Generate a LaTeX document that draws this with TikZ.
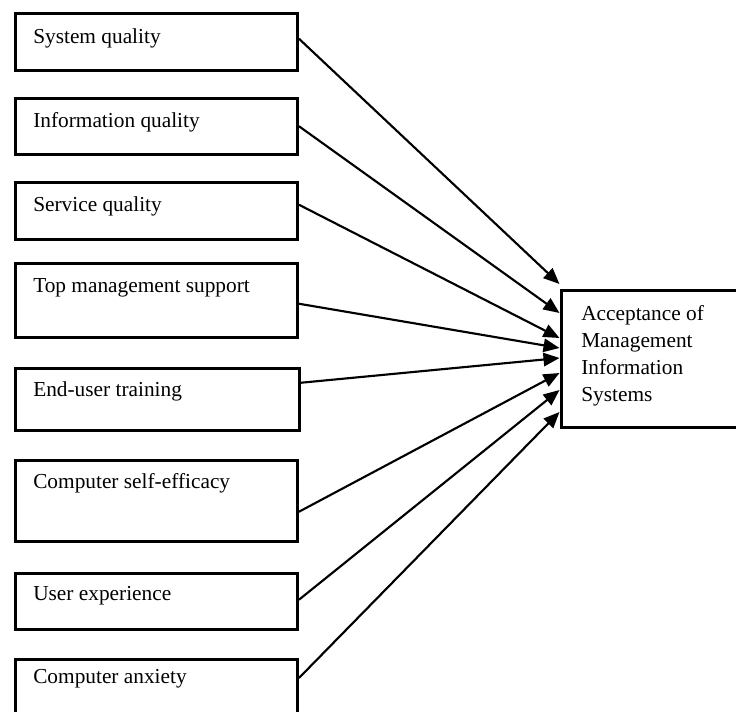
\documentclass[tikz,border=0pt]{standalone}
\usepackage{fontspec}
\setmainfont{Liberation Serif}
\usetikzlibrary{arrows.meta,calc}
\begin{document}
\begin{tikzpicture}[x=0.75pt,y=-0.75pt,
  box/.style={draw, line width=2.6pt, anchor=north west, inner sep=0pt, minimum width=211.5pt},
  txt/.style={anchor=base west, inner sep=0pt, font=\fontsize{16}{20.25}\selectfont},
  arr/.style={line width=1.6pt, -{Triangle[length=12pt,width=10pt]}}]
\useasboundingbox (0,0) rectangle (736,711);
\clip (0,0) rectangle (736,711);
\fill[white] (0,0) rectangle (736,711);
% left boxes
\node[box, minimum height=42.75pt] (b1) at (13.5,11.5) {};
\node[box, minimum height=42pt]    (b2) at (13.5,96.5) {};
\node[box, minimum height=42.75pt] (b3) at (13.5,180.5) {};
\node[box, minimum height=55.5pt]  (b4) at (13.5,261.5) {};
\node[box, minimum height=46.5pt, minimum width=213pt] (b5) at (13.5,366.5) {};
\node[box, minimum height=60.75pt] (b6) at (13.5,458.5) {};
\node[box, minimum height=42pt]    (b7) at (13.5,571.5) {};
\node[box, minimum height=62pt]    (b8) at (13.5,657.5) {};
% texts
\node[txt] (t1) at ($(b1.north west)+(19.5,31.5)$) {System quality};
\node[txt] (t2) at ($(b2.north west)+(19.5,30.5)$) {Information quality};
\node[txt] (t3) at ($(b3.north west)+(19.5,30.5)$) {Service quality};
\node[txt] (t4) at ($(b4.north west)+(19.5,30.5)$) {Top management support};
\node[txt] (t5) at ($(b5.north west)+(19.5,30)$) {End-user training};
\node[txt] (t6) at ($(b6.north west)+(19.5,30)$) {Computer self-efficacy};
\node[txt] (t7) at ($(b7.north west)+(19.5,28.5)$) {User experience};
\node[txt] (t8) at ($(b8.north west)+(19.5,25.5)$) {Computer anxiety};
% right box
\node[box, minimum width=142.9pt, minimum height=102.75pt] (acc) at (559.5,288.5) {};
\node[anchor=north west, inner sep=0pt, align=left, font=\fontsize{16}{20.25}\selectfont]
  (tacc) at ($(acc.north west)+(21.5,16.5)$) {Acceptance of\\Management\\Information\\Systems};
% connectors
\draw[arr] ([shift={(0,-3)}]b1.east) -- ([shift={(0,-4.5)}]acc.north west);
\draw[arr] (b2.east) -- ([shift={(0,24.5)}]acc.north west);
\draw[arr] ([shift={(0,-6)}]b3.east) -- ([shift={(0,49.5)}]acc.north west);
\draw[arr] ([shift={(0,3.5)}]b4.east) -- ([shift={(0,59.5)}]acc.north west);
\draw[arr] ([shift={(0,-16.5)}]b5.east) -- ([shift={(0,69.5)}]acc.north west);
\draw[arr] ([shift={(0,11)}]b6.east) -- ([shift={(0,84.5)}]acc.north west);
\draw[arr] ([shift={(0,-1.5)}]b7.east) -- ([shift={(0,101.5)}]acc.north west);
\draw[arr] ([shift={(0,20.5)}]b8.north east) -- ([shift={(0,123.5)}]acc.north west);
\end{tikzpicture}
\end{document}
